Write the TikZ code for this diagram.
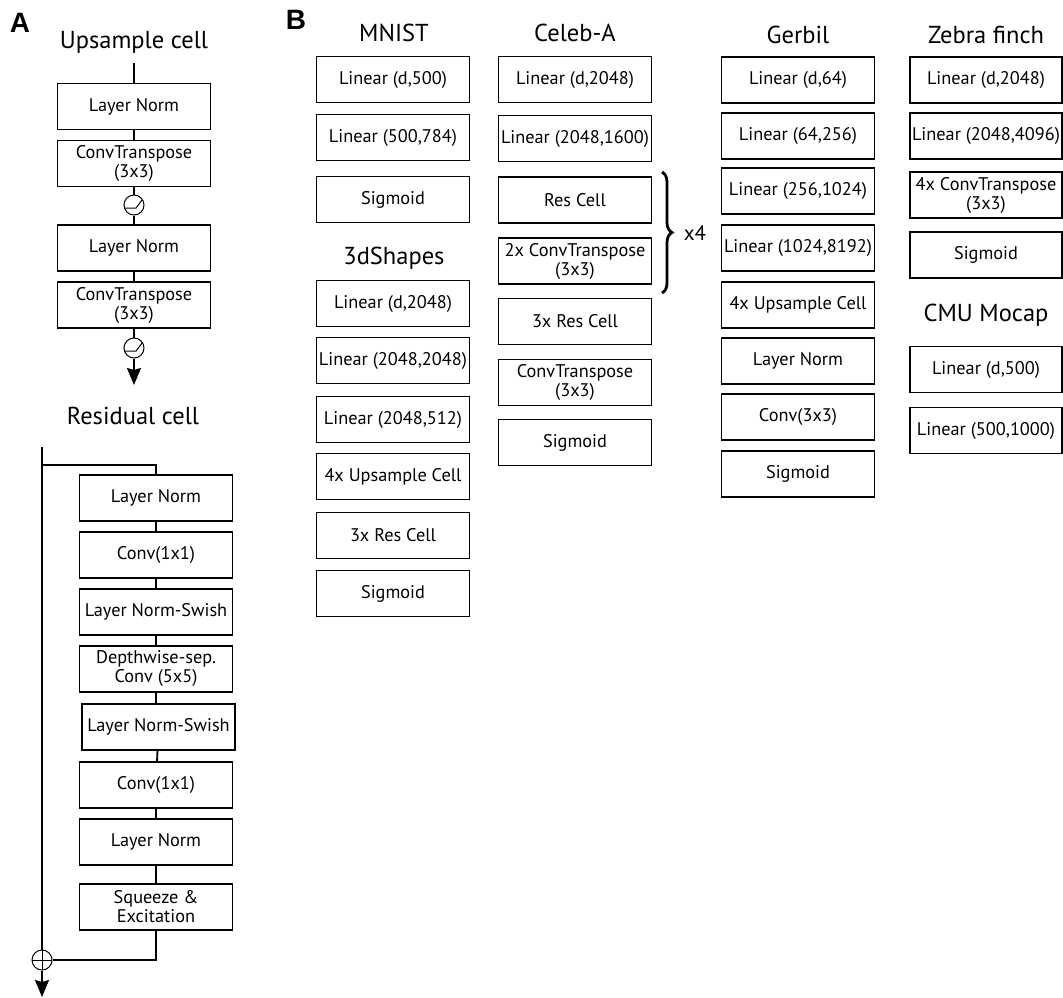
\documentclass[tikz,border=0pt]{standalone}
\usepackage{fontspec}
\setmainfont{PT Sans}
\newfontfamily\labfont{Liberation Sans}
\usetikzlibrary{arrows.meta,decorations.pathreplacing}
\begin{document}
\begin{tikzpicture}[x=1pt,y=-1pt,
  blk/.style={draw, line width=1.8pt, minimum width=153pt, minimum height=46pt, inner sep=0pt, align=center, font=\fontsize{18.3}{19}\selectfont},
  ttl/.style={font=\fontsize{24.5}{27}\selectfont, inner sep=0pt},
  lab/.style={font=\labfont\bfseries\fontsize{28}{30}\selectfont, inner sep=0pt},
  conn/.style={line width=1.8pt},
  arr/.style={line width=1.8pt, -{Stealth[length=17pt,width=14pt,inset=2pt]}},
  opc/.style={draw, circle, line width=1pt, minimum size=20pt, inner sep=0pt},
  thin/.style={line width=1pt},
]
\useasboundingbox (0,0) rectangle (1063,997);

% ---------- A ----------
\node[lab] (labA) at (20,23) {A};
\node[ttl] (tUp) at (134,42) {Upsample cell};
\coordinate (utop) at (134,63);
\node[blk] (u1) at (134,106.5) {Layer Norm};
\node[blk] (u2) at (134,163.5) {ConvTranspose\\(3x3)};
\node[opc] (s1) at (134,205) {};
\node[blk] (u3) at (134,248) {Layer Norm};
\node[blk] (u4) at (134,305) {ConvTranspose\\(3x3)};
\node[opc] (s2) at (134,348) {};
\coordinate (uend) at (134,385);
\draw[thin] (124.5,208) -- (136,208) -- (142,200);
\draw[thin] (124.5,351) -- (136,351) -- (142,343);
\draw[conn] (utop) -- (u1);
\draw[conn] (u1) -- (u2);
\draw[conn] (u2) -- (s1);
\draw[conn] (s1) -- (u3);
\draw[conn] (u3) -- (u4);
\draw[conn] (u4) -- (s2);
\draw[arr] (s2) -- (uend);

\node[ttl] (tRes) at (133,416) {Residual cell};
\coordinate (rtop) at (42,447);
\coordinate (rbr) at (42,465);
\node[blk] (r1) at (156,498) {Layer Norm};
\node[blk] (r2) at (156,555) {Conv(1x1)};
\node[blk] (r3) at (156,612) {Layer Norm-Swish};
\node[blk] (r4) at (156,669) {Depthwise-sep.\\Conv (5x5)};
\node[blk] (r5) at (158.5,727) {Layer Norm-Swish};
\node[blk] (r6) at (156,785) {Conv(1x1)};
\node[blk] (r7) at (156,842) {Layer Norm};
\node[blk] (r8) at (156,907) {Squeeze \&\\Excitation};
\node[opc] (plus) at (42,960) {};
\draw[thin] (32,960) -- (52,960);
\draw[thin] (42,950) -- (42,970);
\coordinate (rend) at (42,997);
\draw[conn] (rtop) -- (plus);
\draw[conn] (rbr) -| (r1);
\draw[conn] (r1) -- (r2);
\draw[conn] (r2) -- (r3);
\draw[conn] (r3) -- (r4);
\draw[conn] (r4) -- (r4 |- r5.north);
\draw[conn] (r5) -- (r6);
\draw[conn] (r6) -- (r7);
\draw[conn] (r7) -- (r8);
\draw[conn] (r8) |- (plus);
\draw[arr] (plus) -- (rend);

% ---------- B ----------
\node[lab] (labB) at (296,20) {B};

\node[ttl] (tMN) at (394,33) {MNIST};
\node[blk] (m1) at (393,79.5) {Linear (d,500)};
\node[blk] (m2) at (393,137.5) {Linear (500,784)};
\node[blk] (m3) at (393,199.5) {Sigmoid};

\node[ttl] (t3d) at (394,258) {3dShapes};
\node[blk] (d1) at (393,303.5) {Linear (d,2048)};
\node[blk] (d2) at (393,360.5) {Linear (2048,2048)};
\node[blk] (d3) at (393,419.5) {Linear (2048,512)};
\node[blk] (d4) at (393,476.5) {4x Upsample Cell};
\node[blk] (d5) at (393,535.5) {3x Res Cell};
\node[blk] (d6) at (393,593.5) {Sigmoid};

\node[ttl] (tCe) at (575,33) {Celeb-A};
\node[blk] (c1) at (575,79.5) {Linear (d,2048)};
\node[blk] (c2) at (575,138.5) {Linear (2048,1600)};
\node[blk] (c3) at (575,200) {Res Cell};
\node[blk] (c4) at (575,261) {2x ConvTranspose\\(3x3)};
\node[blk] (c5) at (575,321.5) {3x Res Cell};
\node[blk] (c6) at (575,382.5) {ConvTranspose\\(3x3)};
\node[blk] (c7) at (575,442.5) {Sigmoid};
\coordinate (brt) at (662,172);
\coordinate (brb) at (662,293);
\draw[line width=2.8pt, decorate, decoration={brace, amplitude=10pt}] (brt) -- (brb);
\node[font=\fontsize{21}{23}\selectfont, inner sep=0pt] (x4) at (695,233) {x4};

\node[ttl] (tGe) at (798,35) {Gerbil};
\node[blk] (g1) at (798,80) {Linear (d,64)};
\node[blk] (g2) at (798,136) {Linear (64,256)};
\node[blk] (g3) at (798,191) {Linear (256,1024)};
\node[blk] (g4) at (798,248) {Linear (1024,8192)};
\node[blk] (g5) at (798,305) {4x Upsample Cell};
\node[blk] (g6) at (798,361) {Layer Norm};
\node[blk] (g7) at (798,417) {Conv(3x3)};
\node[blk] (g8) at (798,474) {Sigmoid};

\node[ttl] (tZe) at (986,35) {Zebra finch};
\node[blk, minimum width=152pt] (z1) at (986,80) {Linear (d,2048)};
\node[blk, minimum width=152pt] (z2) at (986,136) {Linear (2048,4096)};
\node[blk, minimum width=152pt] (z3) at (986,195) {4x ConvTranspose\\(3x3)};
\node[blk, minimum width=152pt] (z4) at (986,255) {Sigmoid};

\node[ttl] (tCM) at (986,315) {CMU Mocap};
\node[blk, minimum width=152pt] (k1) at (986,369.5) {Linear (d,500)};
\node[blk, minimum width=152pt] (k2) at (986,430.5) {Linear (500,1000)};
\end{tikzpicture}
\end{document}
